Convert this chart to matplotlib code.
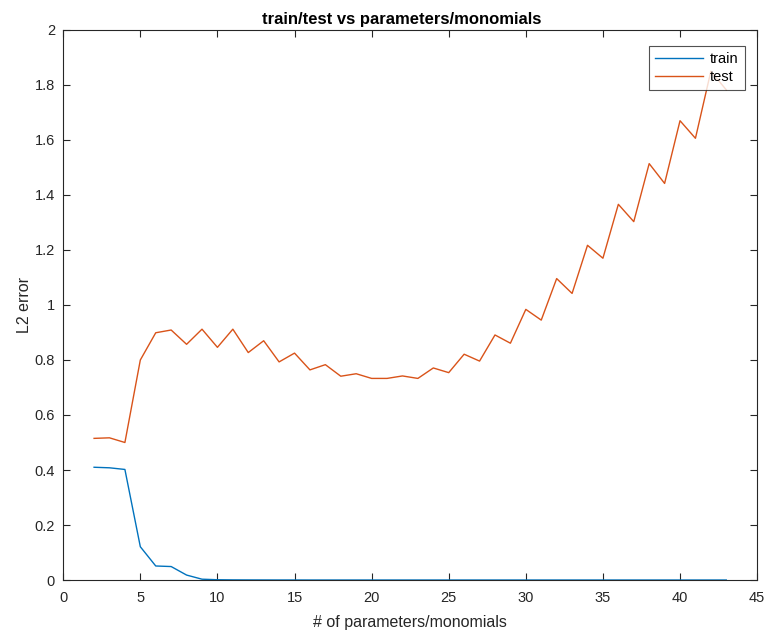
import matplotlib
matplotlib.use('Agg')
import matplotlib.pyplot as plt
from matplotlib.ticker import FormatStrFormatter, MultipleLocator

plt.rcParams['font.family'] = ['Liberation Sans', 'DejaVu Sans']

# number of monomials in the fit
n_params = list(range(2, 44))

train_err = [0.410, 0.408, 0.402, 0.121, 0.051, 0.049, 0.018, 0.003, 0.001, 0.0005,
             0.0003, 0.0002, 0.0001, 0.0001, 0.0, 0.0, 0.0, 0.0, 0.0, 0.0,
             0.0, 0.0, 0.0, 0.0, 0.0, 0.0, 0.0, 0.0, 0.0, 0.0,
             0.0, 0.0, 0.0, 0.0, 0.0, 0.0, 0.0, 0.0, 0.0, 0.0,
             0.0, 0.0]

test_err = [0.515, 0.517, 0.500, 0.800, 0.899, 0.909, 0.857, 0.912, 0.846, 0.912,
            0.827, 0.870, 0.793, 0.825, 0.764, 0.783, 0.741, 0.750, 0.733, 0.733,
            0.742, 0.733, 0.771, 0.754, 0.821, 0.796, 0.891, 0.861, 0.984, 0.945,
            1.096, 1.042, 1.217, 1.170, 1.366, 1.303, 1.514, 1.442, 1.670, 1.606,
            1.850, 1.782]

DARK = '#262626'

fig = plt.figure(figsize=(7.71, 6.33), dpi=100)
ax = fig.add_axes([0.082, 0.0837, 0.9, 0.869])

ax.plot(n_params, train_err, color='#0072BD', lw=1.0, label='train')
ax.plot(n_params, test_err, color='#D95319', lw=1.0, label='test')

ax.set_xlim(0, 45)
ax.set_ylim(0, 2)
ax.xaxis.set_major_locator(MultipleLocator(5))
ax.yaxis.set_major_locator(MultipleLocator(0.2))
ax.yaxis.set_major_formatter(FormatStrFormatter('%g'))

ax.tick_params(direction='in', length=5, width=0.8, top=True, right=True,
               colors=DARK, labelsize=10.5)
ax.tick_params(axis='x', pad=8)
ax.tick_params(axis='y', pad=6)
for side in ax.spines.values():
    side.set_color(DARK)
    side.set_linewidth(0.8)

ax.set_title('train/test vs parameters/monomials', fontsize=12,
             fontweight='bold', color='black', pad=4, x=0.488)
ax.set_xlabel('# of parameters/monomials', fontsize=11.5, color=DARK, labelpad=7)
ax.set_ylabel('L2 error', fontsize=11.5, color=DARK, labelpad=2)

leg = ax.legend(loc='upper right', bbox_to_anchor=(0.982, 0.97), fontsize=10.5,
                frameon=True, fancybox=False, borderaxespad=0.0,
                handlelength=3.3, borderpad=0.4, labelspacing=0.25,
                handletextpad=0.5)
leg.get_frame().set_edgecolor(DARK)
leg.get_frame().set_linewidth(0.8)

fig.savefig('out.png', dpi=100)
